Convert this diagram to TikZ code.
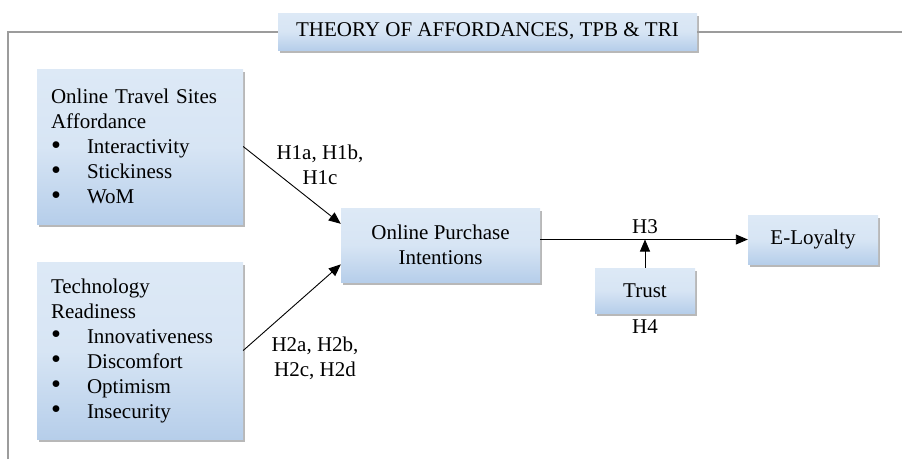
\documentclass[tikz,border=0pt]{standalone}
\usepackage{fontspec}
\setmainfont{Liberation Serif}
\usetikzlibrary{arrows.meta,shadows}
\definecolor{cajaarriba}{HTML}{DDE9F6}
\definecolor{cajaabajo}{HTML}{B6CEEA}
\definecolor{marco}{HTML}{9C9C9C}
\newcommand{\vineta}{\makebox[36pt][l]{\raisebox{-0.5pt}{\scalebox{1.35}{\textbullet}}}}

\begin{document}
\begin{tikzpicture}[x=1pt,y=-1pt,
    caja/.style={top color=cajaarriba, bottom color=cajaabajo, middle color=cajaarriba!85!cajaabajo,
      drop shadow={shadow xshift=2pt, shadow yshift=-3pt, opacity=0.35, fill=black!80},
      inner sep=0pt, font=\fontsize{21}{25}\selectfont, align=center},
    lista/.style={caja, align=left, inner xsep=14pt, text width=178pt, minimum width=206pt},
    flecha/.style={-{Triangle[length=12pt,width=10pt]}, line width=0.9pt},
    etiqueta/.style={font=\fontsize{21}{25}\selectfont, align=center}]
    \useasboundingbox (0,0) rectangle (902,459);
    % Marco y título
    \node[caja, minimum width=419pt, minimum height=37pt] (titulo) at (487.5,31.5) {THEORY OF AFFORDANCES, TPB \& TRI};
    \draw[marco, line width=2pt] (8,459) |- (titulo.west);
    \draw[marco, line width=2pt] (titulo.east) -- (902,31.5);
    % Cajas de la izquierda
    \node[lista, minimum height=155pt] (afford) at (140,146.5) {Online Travel Sites\\Affordance\\
      \vineta Interactivity\\\vineta Stickiness\\\vineta WoM};
    \node[lista, minimum height=177pt] (tri) at (140,350.5) {Technology\\Readiness\\
      \vineta Innovativeness\\\vineta Discomfort\\\vineta Optimism\\\vineta Insecurity};
    % Cajas del centro y la derecha
    \node[caja, minimum width=199pt, minimum height=74pt] (intencion) at (440.5,245) {Online Purchase\\Intentions};
    \node[caja, minimum width=130pt, minimum height=49pt] (lealtad) at (813,239.5) {E-Loyalty};
    \node[caja, minimum width=100pt, minimum height=45pt] (confianza) at (645,290.5) {Trust};
    % Flechas
    \draw[flecha] (afford.east) -- (intencion.168);
    \draw[flecha] (tri.east) -- (intencion.191);
    \draw[flecha] (intencion.east |- lealtad.west) -- (lealtad.west);
    \draw[flecha] (confianza.north) -- (confianza.north |- lealtad.west);
    % Hipótesis
    \node[etiqueta] (h1) at (320,165) {H1a, H1b,\\H1c};
    \node[etiqueta] (h2) at (315,358) {H2a, H2b,\\H2c, H2d};
    \node[etiqueta] (h3) at (645,227) {H3};
    \node[etiqueta] (h4) at (645,327) {H4};
\end{tikzpicture}
\end{document}
